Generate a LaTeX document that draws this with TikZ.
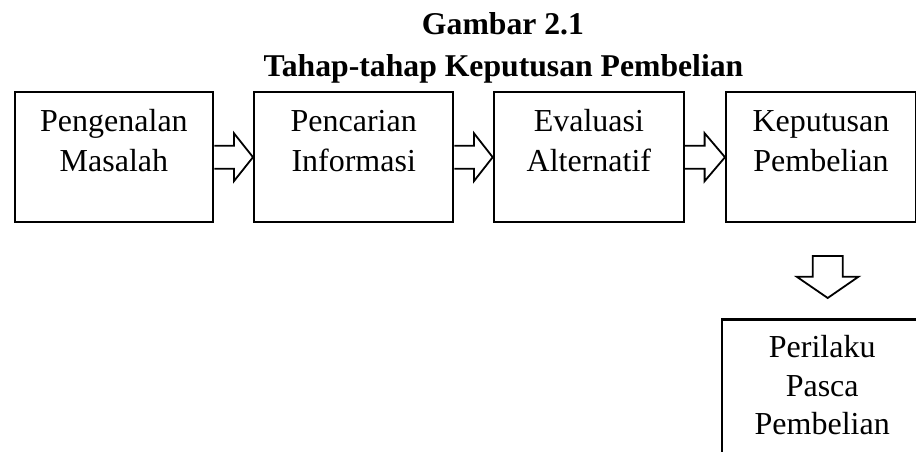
\documentclass[tikz,border=0pt]{standalone}
\usepackage{fontspec}
\setmainfont{Liberation Serif}
\usetikzlibrary{calc}
\begin{document}
\begin{tikzpicture}[x=1pt,y=1pt,
  box/.style={draw, line width=2.4pt, inner sep=0pt, minimum height=130pt, anchor=north west},
  txt/.style={inner sep=0pt, align=center, anchor=base, font=\fontsize{32}{40}\selectfont},
  ttl/.style={inner sep=0pt, anchor=base, font=\fontsize{31.7}{40}\selectfont\bfseries},
  barrow/.style={draw, line width=1.8pt, fill=white, line join=miter}]
\useasboundingbox (0,0) rectangle (916,452);
\clip (0,0) rectangle (916,452);
\fill[white] (0,0) rectangle (916,452);
% title
\node[ttl] (t1) at (503,417) {Gambar 2.1};
\node[ttl] (t2) at (503.5,375) {Tahap-tahap Keputusan Pembelian};
% boxes
\node[box, minimum width=198.5pt] (b1) at (13.5,361) {};
\node[box, minimum width=199pt] (b2) at (253,361) {};
\node[box, minimum width=190pt] (b3) at (492.7,361) {};
\node[box, minimum width=189.5pt] (b4) at (725,361) {};
\node[box, minimum width=200pt, minimum height=160pt] (b5) at (721,133.7) {};
% texts (anchor base = last line's baseline)
\node[txt] (l1) at ($(b1.north)+(0,-80.7)$) {Pengenalan\\Masalah};
\node[txt] (l2) at ($(b2.north)+(0,-80.7)$) {Pencarian\\Informasi};
\node[txt] (l3) at ($(b3.north)+(0,-80.7)$) {Evaluasi\\Alternatif};
\node[txt] (l4) at ($(b4.north)+(0,-80.7)$) {Keputusan\\Pembelian};
\node[txt, font=\fontsize{32}{38.5}\selectfont] (l5) at ($(b5.north)+(0,-116.7)$) {Perilaku\\Pasca\\Pembelian};
% block arrows between boxes
\foreach \a/\b in {b1/b2, b2/b3, b3/b4}{
  \draw[barrow] ($(\a.east)+(0,11.5)$) -- ($(\a.east)+(19.5,11.5)$) -- ($(\a.east)+(19.5,24)$)
    -- (\b.west) -- ($(\a.east)+(19.5,-24)$) -- ($(\a.east)+(19.5,-11.5)$) -- ($(\a.east)+(0,-11.5)$);
}
% down arrow
\coordinate (d) at (827.7,196);
\draw[barrow] ($(d)+(-15,0)$) -- ($(d)+(-15,-20.7)$) -- ($(d)+(-31,-20.7)$) -- ($(d)+(0,-42)$)
  -- ($(d)+(30.8,-20.7)$) -- ($(d)+(15,-20.7)$) -- ($(d)+(15,0)$) -- cycle;
\end{tikzpicture}
\end{document}
